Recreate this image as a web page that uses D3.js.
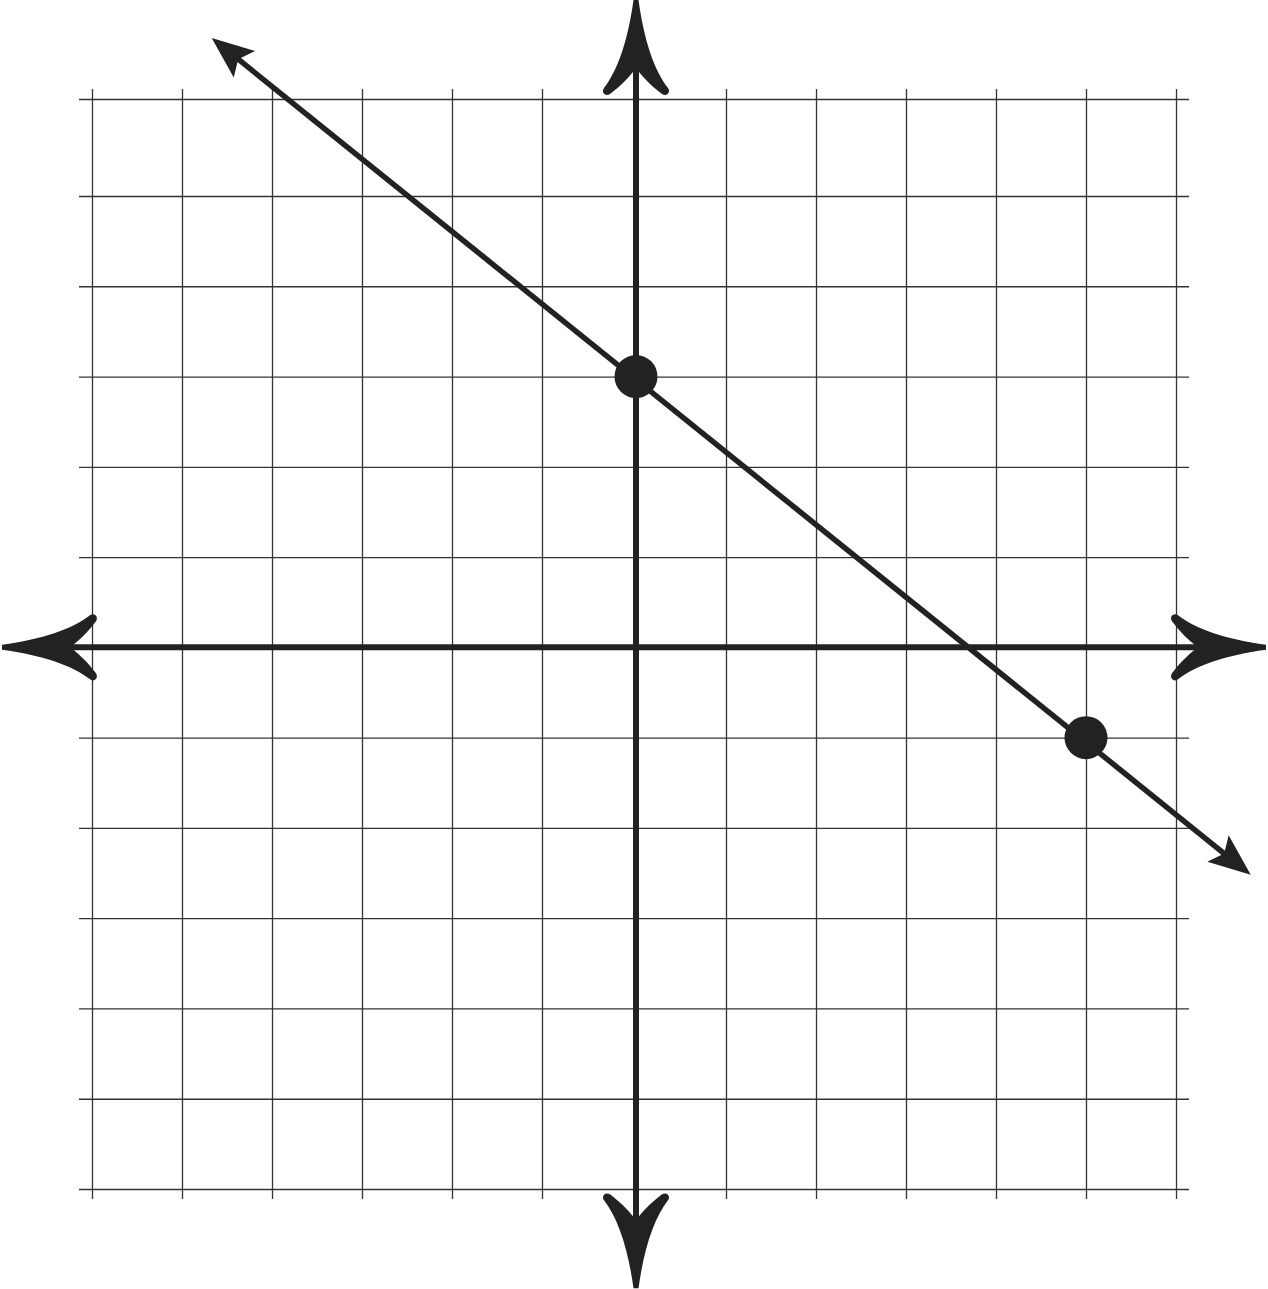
<!DOCTYPE html>
<html>
<head>
<meta charset="utf-8">
<title>Line through two points</title>
<script src="https://cdn.jsdelivr.net/npm/d3@7"></script>
<style>
  html, body { margin: 0; padding: 0; background: #fff; }
  svg { display: block; }
</style>
</head>
<body>
<div id="chart"></div>
<script>
// grid values
const xTicks = [-6, -5, -4, -3, -2, -1, 0, 1, 2, 3, 4, 5, 6]
const yTicks = [-6, -5, -4, -3, -2, -1, 0, 1, 2, 3, 4, 5, 6]

// how far the two axes run (data units), arrow tips at the ends
const xAxisExtent = [-7.0, 7.0]
const yAxisExtent = [-7.1, 7.02]

// the plotted points and the ends of the line through them
const pointsX = [0, 5]
const pointsY = [3, -1]
const lineX = [-4.67, 6.83]
const lineY = [6.63, -2.52]

const width = 1268, height = 1289
const ink = "#222"

const svg = d3.select("#chart")
  .append("svg")
  .attr("width", width)
  .attr("height", height)

// scales (the hand-drawn grid is not quite even: the top row is taller
// and the column left of the y axis a bit wider)
const x = d3.scaleLinear()
  .domain([-6, -1, 0, 6])
  .range([92, 542, 636, 1176])
const y = d3.scaleLinear()
  .domain([6, 5, -6])
  .range([99, 196, 1189])

// grid, drawn with axes whose ticks span the whole plot
const gridOverX = 13, gridOverY = 10
svg.append("g")
  .attr("transform", `translate(0, ${y(-6) + gridOverY})`)
  .call(d3.axisBottom(x).tickValues(xTicks).tickSize(-(y(-6) - y(6) + 2 * gridOverY)).tickFormat(""))
  .call(g => g.select(".domain").remove())
  .call(g => g.selectAll(".tick line").attr("stroke", "#333").attr("stroke-width", 1.3))

svg.append("g")
  .attr("transform", `translate(${x(-6) - gridOverX}, 0)`)
  .call(d3.axisLeft(y).tickValues(yTicks).tickSize(-(x(6) - x(-6) + 2 * gridOverX)).tickFormat(""))
  .call(g => g.select(".domain").remove())
  .call(g => g.selectAll(".tick line").attr("stroke", "#333").attr("stroke-width", 1.3))

// curved arrow head, tip at origin pointing to +x
const curvedHead = "M0,-2.5 C-40,-8 -70,-18 -88,-32 C-92,-35 -97,-31 -94,-26 " +
  "C-85,-14 -75,-5 -68,0 C-75,5 -85,14 -94,26 C-97,31 -92,35 -88,32 " +
  "C-70,18 -40,8 0,2.5 Z"
// plain notched head for the graphed line
const sharpHead = "M0,0 L-42,-17 L-34,0 L-42,17 Z"

// axes
const axes = svg.append("g")
axes.append("line")
  .attr("x1", x(xAxisExtent[0]) + 40).attr("x2", x(xAxisExtent[1]) - 40)
  .attr("y1", y(0)).attr("y2", y(0))
  .attr("stroke", ink).attr("stroke-width", 6)
axes.append("line")
  .attr("x1", x(0)).attr("x2", x(0))
  .attr("y1", y(yAxisExtent[1]) + 40).attr("y2", y(yAxisExtent[0]) - 40)
  .attr("stroke", ink).attr("stroke-width", 6)

const axisHeads = [
  { px: x(xAxisExtent[1]), py: y(0), angle: 0 },
  { px: x(xAxisExtent[0]), py: y(0), angle: 180 },
  { px: x(0), py: y(yAxisExtent[1]), angle: -90 },
  { px: x(0), py: y(yAxisExtent[0]), angle: 90 }
]
axes.selectAll(".head")
  .data(axisHeads)
  .join("path")
  .attr("class", "head")
  .attr("d", curvedHead)
  .attr("fill", ink)
  .attr("transform", d => `translate(${d.px}, ${d.py}) rotate(${d.angle})`)

// the graphed line, stopped short so the heads keep their points
const x1 = x(lineX[0]), y1 = y(lineY[0]), x2 = x(lineX[1]), y2 = y(lineY[1])
const ang = Math.atan2(y2 - y1, x2 - x1)
const cut = 30
svg.append("line")
  .attr("x1", x1 + cut * Math.cos(ang)).attr("y1", y1 + cut * Math.sin(ang))
  .attr("x2", x2 - cut * Math.cos(ang)).attr("y2", y2 - cut * Math.sin(ang))
  .attr("stroke", ink)
  .attr("stroke-width", 5.5)

svg.selectAll(".lineHead")
  .data([
    { px: x2, py: y2, angle: ang * 180 / Math.PI },
    { px: x1, py: y1, angle: ang * 180 / Math.PI + 180 }
  ])
  .join("path")
  .attr("class", "lineHead")
  .attr("d", sharpHead)
  .attr("fill", ink)
  .attr("transform", d => `translate(${d.px}, ${d.py}) rotate(${d.angle})`)

// points
svg.selectAll(".pt")
  .data(pointsX.map((v, i) => [v, pointsY[i]]))
  .join("circle")
  .attr("class", "pt")
  .attr("cx", d => x(d[0]))
  .attr("cy", d => y(d[1]))
  .attr("r", 21.5)
  .attr("fill", ink)
</script>
</body>
</html>
